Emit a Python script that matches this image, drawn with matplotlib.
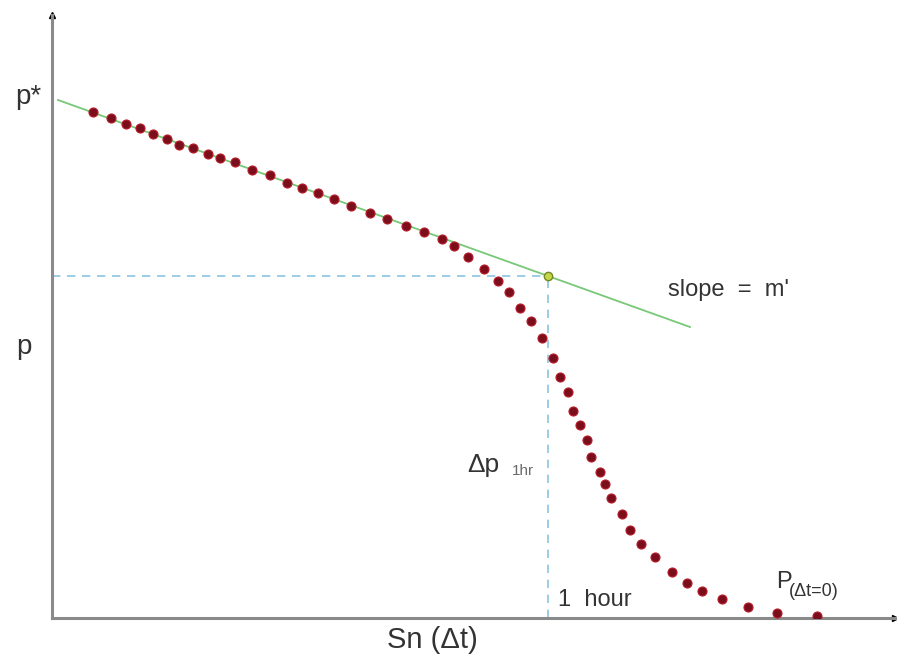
import numpy as np
import matplotlib.pyplot as plt

plt.rcParams['font.family'] = ['Liberation Sans', 'DejaVu Sans']

# pressure buildup points (x = Sn(dt), y = p, arbitrary units)
sn_dt = [41, 59, 74, 88, 101, 115, 127, 141, 156, 168, 183, 200, 218, 235, 250, 266,
         282, 299, 318, 335, 354, 372, 390, 402, 416, 432, 446, 457, 468, 479, 490, 501,
         508, 516, 521, 528, 535, 539, 548, 553, 559, 570, 578, 589, 603, 620, 635, 650,
         670, 696, 725, 765]
p_ws = [506, 500, 494, 490, 484, 479, 473, 470, 464, 460, 456, 448, 443, 435, 430, 425,
        419, 412, 405, 399, 392, 386, 379, 372, 361, 349, 337, 326, 310, 297, 280, 260,
        241, 226, 207, 193, 178, 161, 146, 134, 120, 104, 88, 74, 61, 46, 35, 27,
        19, 11, 5, 2]

# straight line (slope m') and the 1 hour point
line_x = [6, 638]
line_y = [518, 291]
hr_x = 496
hr_y = 342

fig = plt.figure(figsize=(8.97, 6.59), dpi=100)
ax = fig.add_axes([52 / 897, 41 / 659, 843 / 897, 603 / 659])
ax.set_xlim(0, 843)
ax.set_ylim(0, 603)

for s in ['top', 'right']:
    ax.spines[s].set_visible(False)
for s in ['left', 'bottom']:
    ax.spines[s].set_color('#8a8a8a')
    ax.spines[s].set_linewidth(2.2)
ax.set_xticks([])
ax.set_yticks([])

# arrow heads at the ends of the axes
ax.plot([0], [1], marker='^', color='black', markersize=4, transform=ax.transAxes, clip_on=False)
ax.plot([1], [0], marker='>', color='black', markersize=4, transform=ax.transAxes, clip_on=False)

ax.plot(line_x, line_y, color='#77c877', linewidth=1.3, zorder=2)
ax.plot([0, hr_x], [hr_y, hr_y], color='#8cc4e0', linewidth=1.2, linestyle=(0, (5, 4)), zorder=1)
ax.plot([hr_x, hr_x], [0, hr_y], color='#8cc4e0', linewidth=1.2, linestyle=(0, (5, 4)), zorder=1)

ax.plot(sn_dt, p_ws, linestyle='none', marker='o', markersize=6.5,
        markerfacecolor='#7a0e1c', markeredgecolor='#b81c28', markeredgewidth=0.8, zorder=3)
ax.plot([hr_x], [hr_y], marker='o', markersize=6, markerfacecolor='#c8d448',
        markeredgecolor='#6f8a22', markeredgewidth=1, zorder=4)

tc = '#333333'
ax.text(-37, 508, 'p*', fontsize=20, color=tc, ha='left', va='bottom', clip_on=False)
ax.text(-36, 258, 'p', fontsize=20, color=tc, ha='left', va='bottom', clip_on=False)
ax.text(616, 328, 'slope  =  m\'', fontsize=17, color=tc, ha='left', va='center')
ax.text(415, 146, 'Δp', fontsize=19, color=tc, ha='left', va='baseline')
ax.text(460, 143, '1hr', fontsize=11, color='#6a6a6a', ha='left', va='baseline')
ax.text(506, 18, '1  hour', fontsize=17, color=tc, ha='left', va='center')
ax.text(724, 25, 'P', fontsize=17, color=tc, ha='left', va='bottom')
ax.text(737, 26, '(Δt=0)', fontsize=13, color=tc, ha='left', va='center')
ax.text(380, -22, 'Sn (Δt)', fontsize=21, color=tc, ha='center', va='center', clip_on=False)

fig.savefig('out.png', dpi=100)
